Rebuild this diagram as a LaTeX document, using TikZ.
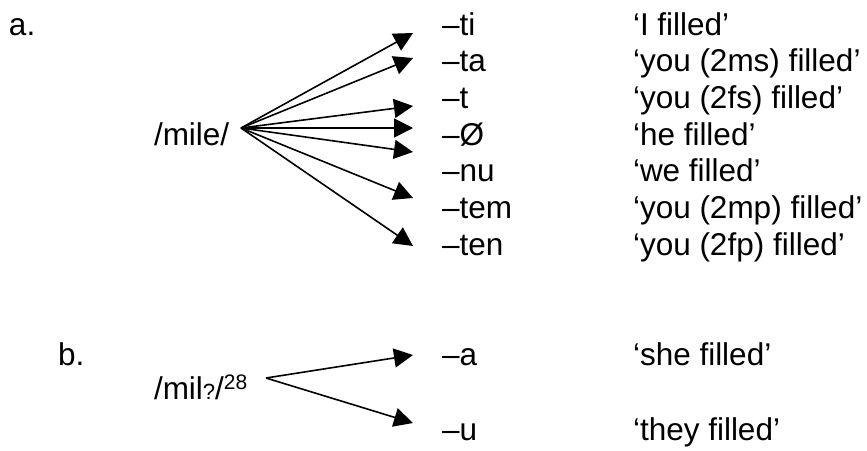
\documentclass[tikz,border=0pt]{standalone}
\usepackage{fontspec}
\setmainfont{Liberation Sans}
\usetikzlibrary{arrows.meta}
\tikzset{
  txt/.style={anchor=base west, inner sep=0pt, outer sep=0pt},
  arr/.style={line width=1.6pt, -{Triangle[length=19pt,width=19pt]}},
}
\begin{document}
\begin{tikzpicture}[x=1pt,y=-1pt,font=\fontsize{31.5}{36}\selectfont]
\useasboundingbox (0,0) rectangle (867,450);
% part a
\node[txt] (la) at (9,35) {a.};
\node[txt] (mile) at (154,145) {/mile/};
\coordinate (srcA) at (241,128);
\node[txt] (s1) at (442,35) {\textendash ti};
\node[txt] (s2) at (442,71.7) {\textendash ta};
\node[txt] (s3) at (442,108.3) {\textendash t};
\node[txt] (s4) at (442,145) {\textendash Ø};
\node[txt] (s5) at (442,181.7) {\textendash nu};
\node[txt] (s6) at (442,218.3) {\textendash tem};
\node[txt] (s7) at (442,255) {\textendash ten};
\node[txt] (g1) at (633,35) {‘I filled’};
\node[txt] (g2) at (633,71.7) {‘you (2ms) filled’};
\node[txt] (g3) at (633,108.3) {‘you (2fs) filled’};
\node[txt] (g4) at (633,145) {‘he filled’};
\node[txt] (g5) at (633,181.7) {‘we filled’};
\node[txt] (g6) at (633,218.3) {‘you (2mp) filled’};
\node[txt] (g7) at (633,255) {‘you (2fp) filled’};
\coordinate (t1) at (413,33);
\coordinate (t2) at (413,58);
\coordinate (t3) at (413,106);
\coordinate (t4) at (413,128);
\coordinate (t5) at (413,152);
\coordinate (t6) at (413,198);
\coordinate (t7) at (413,246);
\foreach \i in {1,...,7} \draw[arr] (srcA) -- (t\i);
% part b
\node[txt] (lb) at (58,365) {b.};
\node[txt] (mil) at (154,399) {/mil{\fontsize{22}{24}\selectfont ?}/\raisebox{9.5pt}{\fontsize{21}{24}\selectfont 28}};
\coordinate (srcB) at (266,378);
\node[txt] (sa) at (442,365) {\textendash a};
\node[txt] (su) at (442,440) {\textendash u};
\node[txt] (ga) at (633,365) {‘she filled’};
\node[txt] (gu) at (633,440) {‘they filled’};
\coordinate (ta) at (413,355);
\coordinate (tu) at (413,423);
\draw[arr] (srcB) -- (ta);
\draw[arr] (srcB) -- (tu);
\end{tikzpicture}
\end{document}
